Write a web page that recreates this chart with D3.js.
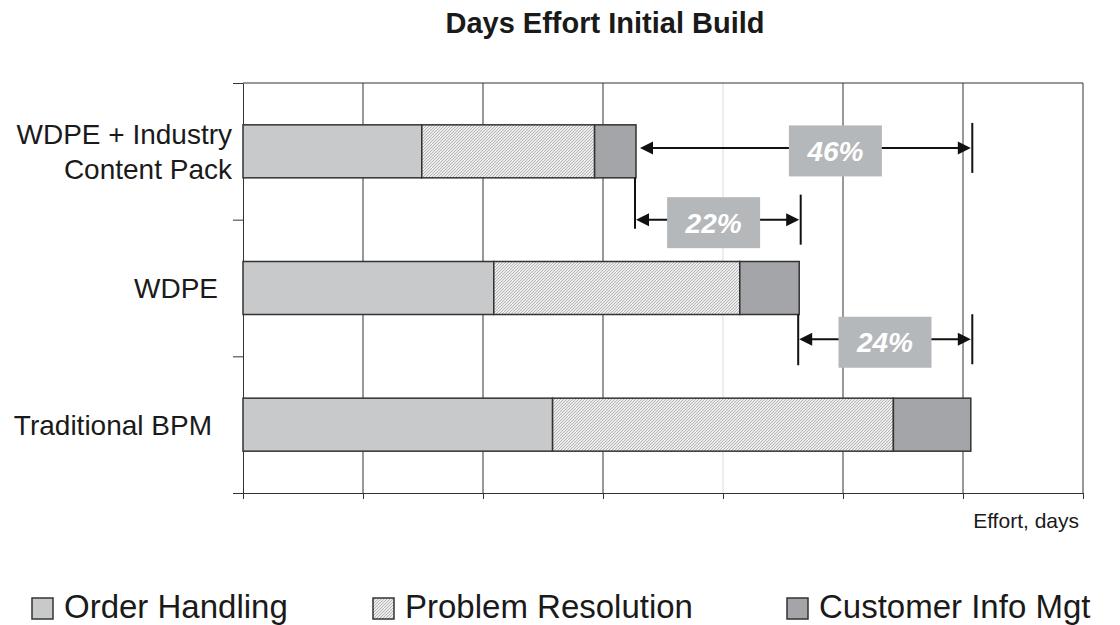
<!DOCTYPE html>
<html>
<head>
<meta charset="utf-8">
<script src="https://cdn.jsdelivr.net/npm/d3@7"></script>
<style>
  body { margin: 0; background: #fff; }
  svg { font-family: "Liberation Sans", Arial, Helvetica, sans-serif; }
</style>
</head>
<body>
<div id="chart"></div>
<script>
// Data
const categories = ["WDPE + Industry Content Pack", "WDPE", "Traditional BPM"];
const categoryLines = [["WDPE + Industry", "Content Pack"], ["WDPE"], ["Traditional BPM"]];
const seriesNames = ["Order Handling", "Problem Resolution", "Customer Info Mgt"];
const orderHandling = [1.49, 2.09, 2.58];
const problemResolution = [1.44, 2.05, 2.84];
const customerInfo = [0.345, 0.495, 0.645];
const xTicks = [0, 1, 2, 3, 4, 5, 6, 7];
const annoFrom = [0, 0, 1];
const annoTo = [2, 1, 2];
const annoLabels = ["46%", "22%", "24%"];
const xAxisTitle = "Effort, days";
const chartTitle = "Days Effort Initial Build";

// Dimensions
const width = 1120, height = 625;
const plotLeft = 243, plotRight = 1083, plotTop = 83, plotBottom = 493;

const svg = d3.select("#chart").append("svg")
  .attr("width", width)
  .attr("height", height);

// hatch pattern for Problem Resolution
const defs = svg.append("defs");
const pat = defs.append("pattern")
  .attr("id", "hatch")
  .attr("patternUnits", "userSpaceOnUse")
  .attr("width", 3).attr("height", 3);
pat.append("rect").attr("width", 3).attr("height", 3).attr("fill", "#ececec");
pat.append("path").attr("d", "M-1,1 l2,-2 M0,3 l3,-3 M2,4 l2,-2")
  .attr("stroke", "#b0b0b0").attr("stroke-width", 0.9);

const fills = ["#c8c9cb", "url(#hatch)", "#a4a5a8"];

// Scales
const x = d3.scaleLinear().domain([0, 7]).range([plotLeft, plotRight]);
const yLin = d3.scaleLinear().domain([0, 3]).range([plotTop, plotBottom]);
const y = d3.scaleBand().domain(categories).range([plotTop, plotBottom]).padding(0);
const barH = 53;

// Title
svg.append("text")
  .attr("x", 605).attr("y", 33)
  .attr("text-anchor", "middle")
  .attr("font-size", 29).attr("font-weight", "bold")
  .attr("fill", "#1a1a1a")
  .text(chartTitle);

// Gridlines
svg.append("g").selectAll("line")
  .data(xTicks.slice(1))
  .enter().append("line")
  .attr("x1", d => x(d)).attr("x2", d => x(d))
  .attr("y1", plotTop).attr("y2", plotBottom)
  .attr("stroke", d => d === 4 ? "#dcdcdc" : "#333")
  .attr("stroke-width", 1);

// top border
svg.append("line")
  .attr("x1", plotLeft).attr("x2", plotRight)
  .attr("y1", plotTop).attr("y2", plotTop)
  .attr("stroke", "#333");

// Axes
const xAxis = svg.append("g")
  .attr("transform", "translate(0," + plotBottom + ")")
  .call(d3.axisBottom(x).tickValues(xTicks).tickFormat("").tickSize(6).tickSizeOuter(0));
xAxis.selectAll("path, line").attr("stroke", "#333");

const yAxis = svg.append("g")
  .attr("transform", "translate(" + plotLeft + ",0)")
  .call(d3.axisLeft(yLin).tickValues([0, 1, 2, 3]).tickFormat("").tickSize(10).tickSizeOuter(0));
yAxis.selectAll("path, line").attr("stroke", "#333");

// Stack the series
const rows = categories.map((c, i) => ({
  cat: c,
  "Order Handling": orderHandling[i],
  "Problem Resolution": problemResolution[i],
  "Customer Info Mgt": customerInfo[i]
}));
const stacked = d3.stack().keys(seriesNames)(rows);

const layers = svg.append("g").selectAll("g")
  .data(stacked)
  .enter().append("g")
  .attr("fill", (d, i) => fills[i]);

layers.selectAll("rect")
  .data(d => d)
  .enter().append("rect")
  .attr("x", d => x(d[0]))
  .attr("width", d => x(d[1]) - x(d[0]))
  .attr("y", d => y(d.data.cat) + (y.bandwidth() - barH) / 2)
  .attr("height", barH)
  .attr("stroke", "#333")
  .attr("stroke-width", 1.5);

// Category labels
const labelShift = [0, 14, 20];
const labels = svg.append("g").selectAll("text")
  .data(categories)
  .enter().append("text")
  .attr("text-anchor", "end")
  .attr("font-size", 28)
  .attr("fill", "#1a1a1a")
  .attr("transform", (d, i) => {
    const n = categoryLines[i].length;
    const cy = y(d) + y.bandwidth() / 2;
    return "translate(" + (232 - labelShift[i]) + "," + (cy + 10 - (n - 1) * 17.7) + ")";
  });
labels.selectAll("tspan")
  .data((d, i) => categoryLines[i])
  .enter().append("tspan")
  .attr("x", 0)
  .attr("dy", (d, j) => j === 0 ? 0 : 35.5)
  .text(d => d);

// Axis title
svg.append("text")
  .attr("x", 1079).attr("y", 528)
  .attr("text-anchor", "end")
  .attr("font-size", 21)
  .attr("fill", "#1a1a1a")
  .text(xAxisTitle);

// Annotations
const totals = categories.map((c, i) => orderHandling[i] + problemResolution[i] + customerInfo[i]);
const annoLayout = [
  { at: 0.475, startDrop: null, tipGap: 4, dx: 30 },
  { at: 1.0, startDrop: 9, tipGap: 0, dx: -4 },
  { at: 1.875, startDrop: 26, tipGap: 0, dx: 0 }
];
const ann = svg.append("g").selectAll("g")
  .data(annoLabels)
  .enter().append("g");

ann.each(function(label, i) {
  const g = d3.select(this);
  const L = annoLayout[i];
  const ay = yLin(L.at);
  const x1 = x(totals[annoFrom[i]]) + L.tipGap;
  const x2 = x(totals[annoTo[i]]);
  const fromBottom = y(categories[annoFrom[i]]) + (y.bandwidth() + barH) / 2;

  if (L.startDrop !== null) {
    g.append("line")
      .attr("x1", x1 - 1).attr("x2", x1 - 1)
      .attr("y1", fromBottom).attr("y2", ay + L.startDrop)
      .attr("stroke", "#111").attr("stroke-width", 2);
  }
  // end marker
  g.append("line")
    .attr("x1", x2 + 1.5).attr("x2", x2 + 1.5)
    .attr("y1", ay - 25).attr("y2", ay + 25)
    .attr("stroke", "#111").attr("stroke-width", 2);
  // shaft
  g.append("line")
    .attr("x1", x1 + 10).attr("x2", x2 - 10)
    .attr("y1", ay).attr("y2", ay)
    .attr("stroke", "#111").attr("stroke-width", 2);
  // arrowheads
  g.append("path")
    .attr("d", "M" + x1 + "," + ay + "l13,-6.5v13z")
    .attr("fill", "#111");
  g.append("path")
    .attr("d", "M" + x2 + "," + ay + "l-13,-6.5v13z")
    .attr("fill", "#111");

  const cx = (x1 + x2) / 2 + L.dx;
  const cy = ay + 3;
  g.append("rect")
    .attr("x", cx - 46.5).attr("y", cy - 25.5)
    .attr("width", 93).attr("height", 51)
    .attr("fill", "#b5b8bb");
  g.append("text")
    .attr("x", cx).attr("y", cy + 10)
    .attr("text-anchor", "middle")
    .attr("font-size", 28)
    .attr("font-weight", "bold")
    .attr("font-style", "italic")
    .attr("fill", "#fff")
    .text(label);
});

// Legend
const legendX = [32, 373, 787];
const legend = svg.append("g").selectAll("g")
  .data(seriesNames)
  .enter().append("g")
  .attr("transform", (d, i) => "translate(" + legendX[i] + ",598)");
legend.append("rect")
  .attr("width", 21).attr("height", 21)
  .attr("fill", (d, i) => fills[i])
  .attr("stroke", "#333").attr("stroke-width", 1.5);
legend.append("text")
  .attr("x", 32).attr("y", 20)
  .attr("font-size", 33)
  .attr("fill", "#1a1a1a")
  .text(d => d);
</script>
</body>
</html>
